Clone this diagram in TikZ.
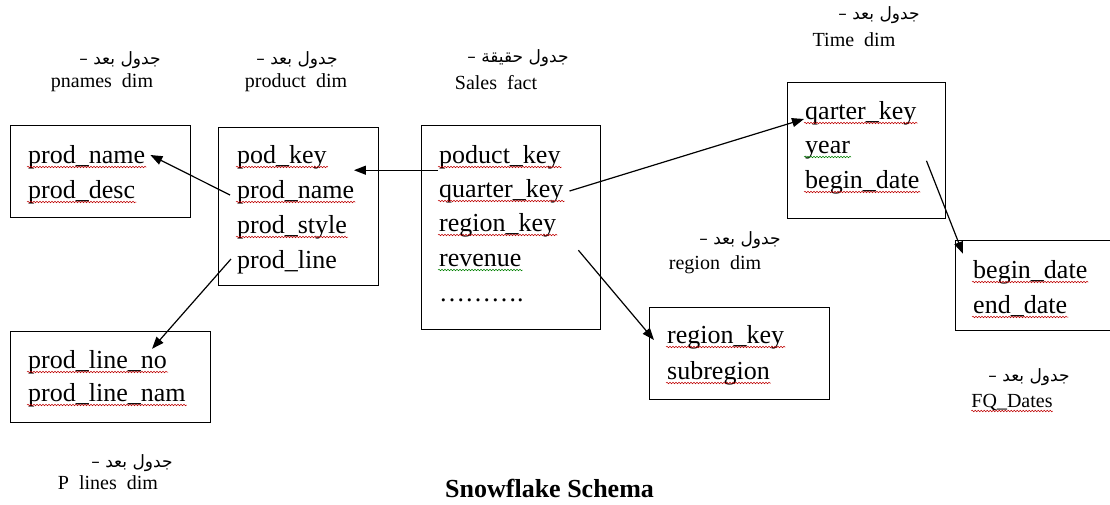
\documentclass[tikz,border=0pt]{standalone}
\usepackage{fontspec}
\setmainfont{Liberation Serif}
\newfontfamily\arabicfont[Script=Arabic]{DejaVu Sans}
\TeXXeTstate=1
\usetikzlibrary{calc,arrows.meta,decorations.pathmorphing}

\tikzset{
  tablebox/.style={draw,line width=1.2pt,anchor=north west,inner sep=0pt},
  field/.style={anchor=west,inner sep=1pt,font=\fontsize{26}{30}\selectfont,
    text height=18pt,text depth=6pt},
  tablename/.style={font=\fontsize{20}{24}\selectfont,inner sep=0pt},
  arname/.style={font=\arabicfont\fontsize{17}{20}\selectfont,inner sep=0pt},
  link/.style={line width=1.2pt,-{Triangle[length=12pt,width=9pt]}},
  spellred/.style={red!75!black,line width=0.5pt,decorate,
    decoration={snake,amplitude=0.8pt,segment length=3pt}},
  spellgreen/.style={spellred,green!50!black}
}

\begin{document}
\begin{tikzpicture}[x=1pt,y=-1pt]
\useasboundingbox (0,0) rectangle (1110,504);

% table names
\node[arname] (arpnames) at (120,60) {\beginR جدول بعد –\endR};
\node[tablename] (lbpnames) at (102,83) {pnames\ \ dim};
\node[arname] (arproduct) at (297,60) {\beginR جدول بعد –\endR};
\node[tablename] (lbproduct) at (296,83) {product\ \ dim};
\node[arname] (arsales) at (518,58) {\beginR جدول حقيقة –\endR};
\node[tablename] (lbsales) at (496,83) {Sales\ \ fact};
\node[arname] (artime) at (879,15) {\beginR جدول بعد –\endR};
\node[tablename] (lbtime) at (854,40) {Time\ \ dim};
\node[arname] (arregion) at (740,240) {\beginR جدول بعد –\endR};
\node[tablename] (lbregion) at (715,265) {region\ \ dim};
\node[arname] (arfq) at (1029,377) {\beginR جدول بعد –\endR};
\node[tablename] (lbfq) at (1012,402) {FQ\_Dates};
\node[arname] (arplines) at (132,463) {\beginR جدول بعد –\endR};
\node[tablename] (lbplines) at (108,483) {P\ \ lines\ \ dim};

% tables
\node[tablebox,minimum width=180,minimum height=92] (pnames) at (10,125) {};
\node[field] (n1) at (27,157) {prod\_name};
\node[field] (n2) at (27,192) {prod\_desc};

\node[tablebox,minimum width=160,minimum height=158] (product) at (218,127) {};
\node[field] (p1) at (236,157) {pod\_key};
\node[field] (p2) at (236,192) {prod\_name};
\node[field] (p3) at (236,227) {prod\_style};
\node[field] (p4) at (236,262) {prod\_line};

\node[tablebox,minimum width=179,minimum height=204] (sales) at (421,125) {};
\node[field] (s1) at (438,157) {poduct\_key};
\node[field] (s2) at (438,191) {quarter\_key};
\node[field] (s3) at (438,225) {region\_key};
\node[field] (s4) at (438,260) {revenue};
\node[field] (s5) at (438,295) {……….};

\node[tablebox,minimum width=158,minimum height=136] (timedim) at (787,82) {};
\node[field] (t1) at (804,113) {qarter\_key};
\node[field] (t2) at (804,147) {year};
\node[field] (t3) at (804,182) {begin\_date};

\node[tablebox,minimum width=170,minimum height=90] (fqdates) at (955,240) {};
\node[field] (f1) at (972,272) {begin\_date};
\node[field] (f2) at (972,307) {end\_date};

\node[tablebox,minimum width=180,minimum height=92] (region) at (649,307) {};
\node[field] (r1) at (666,337) {region\_key};
\node[field] (r2) at (666,373) {subregion};

\node[tablebox,minimum width=200,minimum height=91] (plines) at (10,331) {};
\node[field] (l1) at (27,362) {prod\_line\_no};
\node[field] (l2) at (27,395) {prod\_line\_nam};

\node[anchor=base west,inner sep=0pt,font=\bfseries\fontsize{26}{30}\selectfont] (title) at (445,497) {Snowflake Schema};

% spelling marks
\draw[spellred] ([yshift=-4pt]n1.base west) -- ([yshift=-4pt]n1.base east);
\draw[spellred] ([yshift=-4pt]n2.base west) -- ([yshift=-4pt]n2.base east);
\draw[spellred] ([yshift=-4pt]p1.base west) -- ([yshift=-4pt]p1.base east);
\draw[spellred] ([yshift=-4pt]p2.base west) -- ([yshift=-4pt]p2.base east);
\draw[spellred] ([yshift=-4pt]p3.base west) -- ([yshift=-4pt]p3.base east);
\draw[spellred] ([yshift=-4pt]s1.base west) -- ([yshift=-4pt]s1.base east);
\draw[spellred] ([yshift=-4pt]s2.base west) -- ([yshift=-4pt]s2.base east);
\draw[spellred] ([yshift=-4pt]s3.base west) -- ([yshift=-4pt]s3.base east);
\draw[spellgreen] ([yshift=-4pt]s4.base west) -- ([yshift=-4pt]s4.base east);
\draw[spellred] ([yshift=-4pt]t1.base west) -- ([yshift=-4pt]t1.base east);
\draw[spellgreen] ([yshift=-4pt]t2.base west) -- ([yshift=-4pt]t2.base east);
\draw[spellred] ([yshift=-4pt]t3.base west) -- ([yshift=-4pt]t3.base east);
\draw[spellred] ([yshift=-4pt]f1.base west) -- ([yshift=-4pt]f1.base east);
\draw[spellred] ([yshift=-4pt]f2.base west) -- ([yshift=-4pt]f2.base east);
\draw[spellred] ([yshift=-4pt]r1.base west) -- ([yshift=-4pt]r1.base east);
\draw[spellred] ([yshift=-4pt]r2.base west) -- ([yshift=-4pt]r2.base east);
\draw[spellred] ([yshift=-4pt]l1.base west) -- ([yshift=-4pt]l1.base east);
\draw[spellred] ([yshift=-4pt]l2.base west) -- ([yshift=-4pt]l2.base east);
\draw[spellred] ([yshift=-4pt]lbfq.base west) -- ([yshift=-4pt]lbfq.base east);

% links
\draw[link] ($(p2.west)+(-6,3)$) -- ($(n1.east)+(4,-2)$);
\draw[link] (s1.south west) -- ([xshift=26pt]p1.south east);
\draw[link] ([xshift=5pt]s2.east) -- (t1.base west);
\draw[link] ($(s3.south east)+(21,12)$) -- ($(r1.west)+(-12,3)$);
\draw[link] ($(t3.north east)+(6,-8)$) -- ($(f1.north west)+(-9,-5)$);
\draw[link] ($(p4.west)+(-5,-3)$) -- ($(l1.north east)+(-16,0)$);
\end{tikzpicture}
\end{document}
